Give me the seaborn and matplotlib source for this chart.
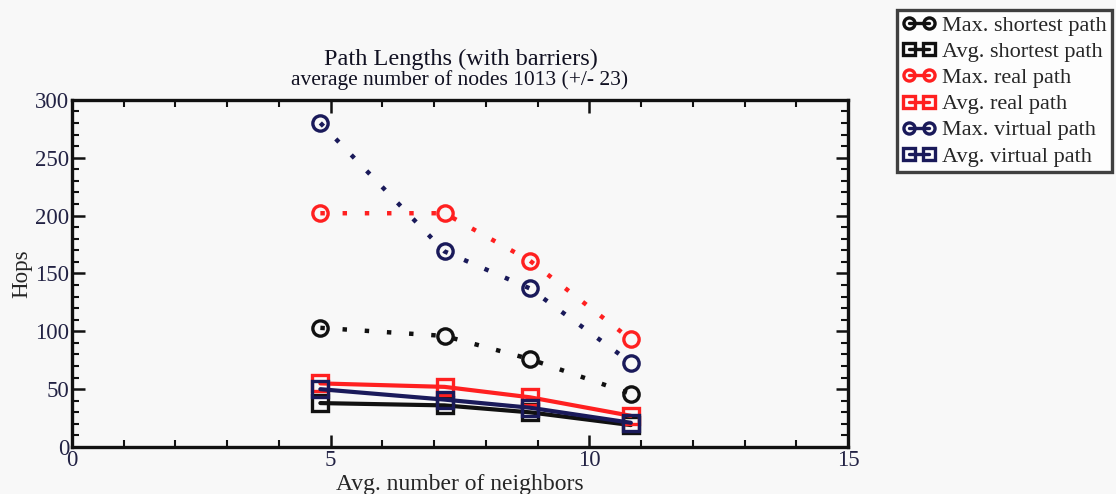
import matplotlib
matplotlib.use("Agg")
import matplotlib.pyplot as plt
from matplotlib.ticker import MultipleLocator
import seaborn as sns

# Average neighbour count at each measured network density
neighbors = [4.8, 7.2, 8.85, 10.8]

max_shortest = [103, 96, 76, 46]
avg_shortest = [38, 36, 30, 19]
max_real = [202, 202, 161, 93]
avg_real = [55, 52, 43, 27]
max_virtual = [280, 169, 137, 73]
avg_virtual = [50, 41, 34, 21]

series_labels = [
    "Max. shortest path", "Avg. shortest path",
    "Max. real path", "Avg. real path",
    "Max. virtual path", "Avg. virtual path",
]

sns.set_theme(style="ticks")
plt.rcParams["font.family"] = ["Liberation Serif", "DejaVu Serif"]

bg = "#f8f8f8"
fig = plt.figure(figsize=(11.16, 4.94), dpi=100, facecolor=bg)
ax = fig.add_axes([0.0645, 0.095, 0.6955, 0.703])
ax.set_facecolor(bg)

black = "#111111"
red = "#ff2020"
navy = "#1a1a5a"

specs = [
    (max_shortest, black, "o", "max"),
    (avg_shortest, black, "s", "avg"),
    (max_real, red, "o", "max"),
    (avg_real, red, "s", "avg"),
    (max_virtual, navy, "o", "max"),
    (avg_virtual, navy, "s", "avg"),
]

handles = []
for (vals, col, mk, kind), lab in zip(specs, series_labels):
    if kind == "max":
        ls = (0, (1, 4))
        lw = 3.2
    else:
        ls = "-"
        lw = 3.0
    sns.lineplot(x=neighbors, y=vals, ax=ax, color=col, marker=mk,
                 markersize=11, markerfacecolor="none", markeredgecolor=col,
                 markeredgewidth=2.4, linewidth=lw, linestyle=ls,
                 sort=False, label=lab, legend=False)
    handles.append(ax.lines[-1])

ax.set_xlim(0, 15)
ax.set_ylim(0, 300)
ax.xaxis.set_major_locator(MultipleLocator(5))
ax.xaxis.set_minor_locator(MultipleLocator(1))
ax.yaxis.set_major_locator(MultipleLocator(50))
ax.yaxis.set_minor_locator(MultipleLocator(10))
ax.tick_params(which="both", direction="in", top=True, right=True,
               color=black, labelsize=16.5, labelcolor="#222244")
ax.tick_params(which="major", length=9, width=1.8, pad=2)
ax.tick_params(which="minor", length=5, width=1.5)
for sp in ax.spines.values():
    sp.set_visible(True)
    sp.set_linewidth(2.4)
    sp.set_color(black)

ax.set_xlabel("Avg. number of neighbors", fontsize=17, labelpad=2)
ax.set_ylabel("Hops", fontsize=16.5, labelpad=2)

fig.text(0.413, 1 - 65 / 494, "Path Lengths (with barriers)", ha="center",
         va="baseline", fontsize=17.5, color="#111122")
fig.text(0.412, 1 - 85 / 494, "average number of nodes 1013 (+/- 23)",
         ha="center", va="baseline", fontsize=15.5, color="#111122")

leg = fig.legend(handles=handles, labels=series_labels, loc="upper left",
                 bbox_to_anchor=(0.804, 0.98), fontsize=16, frameon=True,
                 fancybox=False, edgecolor=black, facecolor="white",
                 numpoints=2, handlelength=1.5, handletextpad=0.25,
                 labelspacing=0.25, borderpad=0.25, borderaxespad=0)
leg.get_frame().set_linewidth(2.4)
for h in leg.legend_handles:
    h.set_markersize(8)
    h.set_linestyle("-")
    h.set_linewidth(2.4)

fig.savefig("out.png", dpi=100, facecolor=bg)
